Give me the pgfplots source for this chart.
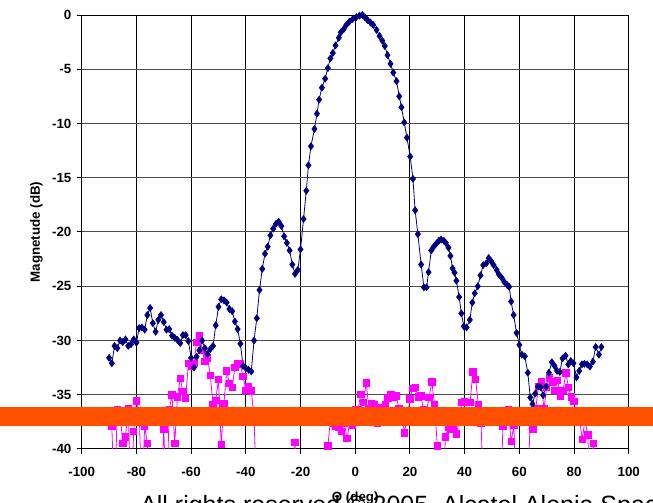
\documentclass[border=0pt]{standalone}
\usepackage{pgfplots}
\pgfplotsset{compat=1.18}
\usepackage{pgfplotstable}
\usepackage{fontspec}
\setmainfont{Liberation Sans}
\definecolor{navyb}{RGB}{0,0,128}
\definecolor{magen}{RGB}{255,0,255}
\definecolor{bandc}{RGB}{255,80,0}

\pgfplotstableread{
x y
-90 -31.6
-89 -32.1
-88 -30.5
-87 -30.7
-86 -30.0
-85 -30.15
-84 -29.9
-83 -30.5
-82 -30.35
-81 -29.9
-80 -30.2
-79 -28.85
-78 -28.8
-77 -29.0
-76 -27.65
-75 -27.0
-74 -28.4
-73 -29.2
-72 -28.1
-71 -27.65
-70 -28.3
-69 -29.0
-68 -28.95
-67 -29.55
-66 -29.75
-65 -29.95
-64 -30.25
-63 -29.5
-62 -29.5
-61 -30.05
-60 -31.6
-59 -32.5
-58 -31.5
-57 -30.9
-56 -30.0
-55 -30.7
-54 -31.25
-53 -30.8
-52 -30.5
-51 -28.6
-50 -26.9
-49 -26.2
-48 -26.3
-47 -26.5
-46 -27.1
-45 -27.3
-44 -28.25
-43 -28.95
-42 -30.3
-41 -32.35
-40 -32.55
-39 -32.7
-38 -32.85
-37 -30.0
-36 -27.95
-35 -25.35
-34 -23.4
-33 -22.0
-32 -21.35
-31 -20.3
-30 -19.7
-29 -19.25
-28 -19.05
-27 -19.45
-26 -20.4
-25 -21.0
-24 -21.7
-23 -23.0
-22 -23.85
-21 -23.5
-20 -21.6
-18.9 -18.8
-17.9 -16.2
-17.1 -13.85
-16.2 -12.1
-14.9 -10.5
-14.0 -9.1
-13.2 -7.8
-12.2 -6.7
-11.0 -5.87
-10.0 -4.9
-9.1 -4.0
-8.2 -3.5
-7.2 -2.8
-6.0 -2.1
-5.3 -1.6
-4.2 -1.3
-3.2 -0.9
-2.1 -0.6
-0.9 -0.37
0.4 -0.2
1.6 -0.06
2.6 0
3.5 -0.2
4.5 -0.46
5.6 -0.7
6.6 -0.92
7.8 -1.38
8.9 -1.94
9.9 -2.37
10.8 -2.86
11.8 -3.7
12.9 -4.5
13.9 -5.3
15.1 -6.1
16.1 -7.5
16.9 -8.5
17.9 -9.9
18.9 -11.3
20.1 -13.05
21.1 -15.1
21.9 -18.0
22.9 -20.2
24.1 -23.0
25.1 -25.1
26.1 -25.1
26.8 -23.7
27.8 -21.7
28.7 -21.35
29.7 -21.05
30.6 -20.8
31.4 -20.7
32.4 -20.8
33.1 -21.0
34.1 -21.45
34.8 -22.2
35.6 -23.35
36.3 -23.75
37.0 -24.5
38.0 -26.0
38.8 -27.5
39.7 -28.7
40.7 -28.8
41.9 -28.1
42.8 -26.5
43.7 -25.65
44.8 -25.0
45.8 -24.0
46.8 -23.05
47.9 -22.9
48.8 -22.4
49.7 -22.7
50.6 -23.05
51.7 -23.5
52.5 -23.9
53.5 -24.2
54.5 -24.6
55.6 -24.9
56.3 -25.05
57.0 -26.4
57.9 -27.65
59.0 -29.3
60.0 -30.4
60.9 -31.3
62.0 -31.45
63.1 -32.97
64.0 -35.25
64.8 -35.85
65.8 -34.9
66.8 -34.25
67.8 -34.3
68.7 -35.05
69.8 -34.25
70.8 -32.97
71.9 -32.0
72.9 -32.35
73.8 -32.8
74.8 -32.9
75.8 -31.65
76.9 -31.4
77.9 -32.2
78.8 -31.9
79.8 -32.1
80.9 -33.4
81.9 -32.8
82.9 -32.2
83.8 -32.15
84.8 -32.2
85.8 -32.4
86.9 -31.95
87.9 -30.6
89.1 -31.3
90.0 -30.6
}\bluedata

\pgfplotstableread{
x y
-90 -37.3
-89 -37.9
-88 -45
-87 -36.4
-86 -36.55
-85 -39.5
-84 -38.9
-83 -36.25
-82 -45
-81 -38.4
-80 -35.55
-79 -36.55
-78 -45
-77 -37.9
-76 -39.5
-75 -46
-74 -44
-73 -47
-72 -45
-71 -44
-70 -38.15
-69 -45
-68 -36.4
-67 -35.0
-66 -39.5
-65 -35.2
-64 -33.5
-63 -34.7
-62 -35.3
-61 -32.1
-60 -32.4
-59 -32.1
-58 -30.2
-57 -29.55
-56 -30.9
-55 -31.9
-54 -31.6
-53 -33.2
-52 -35.9
-51 -35.5
-50 -33.6
-49 -39.6
-48 -35.8
-47 -32.8
-46 -33.95
-45 -34.3
-44 -32.5
-43 -32.1
-42 -32.15
-41 -33.3
-40 -34.6
-39 -34.25
-38 -34.65
-37 -37.0
-36 -45
-35 -47
-34 -44
-33 -46
-32 -45
-31 -48
-30 -44
-29 -46
-28 -45
-27 -47
-26 -44
-25 -46
-24 -45
-23 -44
-22 -39.4
-21 -45
-20 -47
-19 -44
-18 -46
-17 -45
-16 -48
-15 -44
-14 -46
-13 -45
-12 -47
-11 -44
-10 -39.7
-9 -37.2
-8 -37.6
-7 -37.9
-6 -38.0
-5 -38.4
-4 -37.6
-3 -39.05
-2 -37.5
-1 -37.85
0 -36.35
1 -36.4
2 -34.96
3 -35.7
4 -33.9
5 -36.25
6 -35.8
7 -35.9
8 -37.6
9 -36.15
10 -37.1
11 -35.9
12 -35.3
13 -35.0
14 -35.25
15 -35.1
16 -36.25
17 -36.8
18 -38.5
19 -37.2
20 -35.4
21 -34.4
22 -34.3
23 -35.2
24 -35.1
25 -36.4
26 -36.55
27 -35.25
28 -33.8
29 -35.9
30 -39.7
31 -45
32 -44
33 -38.9
34 -38.0
35 -38.2
36 -38.2
37 -38.6
38 -37.4
39 -35.7
40 -35.6
41 -35.7
42 -35.7
43 -32.9
44 -33.6
45 -35.9
46 -37.6
47 -45
48 -46
49 -44
50 -47
51 -45
52 -44
53 -46
54 -37.9
55 -37.2
56 -36.4
57 -39.3
58 -37.85
59 -45
60 -42
61 -40.5
62 -44
63 -45
64 -36.9
65 -38.15
66 -36.25
67 -34.25
68 -33.8
69 -36.3
70 -34.3
71 -33.4
72 -33.8
73 -34.6
74 -33.7
75 -35.1
76 -34.6
77 -33.0
78 -34.35
79 -35.2
80 -35.6
81 -37.0
82 -37.3
83 -39.1
84 -37.3
85 -38.7
86 -44
87 -39.5
88 -45
89 -44
90 -46
}\magdata

\begin{document}
\begin{tikzpicture}
\useasboundingbox (0pt,0pt) rectangle (489.75pt,377.25pt);
\clip (0pt,0pt) rectangle (489.75pt,377.25pt);
\begin{axis}[
  at={(61.3pt,40.5pt)}, anchor=south west,
  scale only axis, width=410.25pt, height=325.5pt,
  xmin=-100, xmax=100, ymin=-40, ymax=0,
  xtick={-100,-80,...,100}, ytick={-40,-35,...,0},
  xticklabels={-100,-80,-60,-40,-20,0,20,40,60,80,100},
  yticklabels={-40,-35,-30,-25,-20,-15,-10,-5,0},
  tick pos=left, tick align=outside, major tick length=3.75pt,
  tick style={black, line width=0.75pt},
  xmajorgrids, ymajorgrids,
  x grid style={black, line width=0.7pt},
  y grid style={black!70, line width=0.75pt},
  axis line style={black, line width=0.75pt},
  ticklabel style={font=\fontsize{10}{12}\selectfont\bfseries},
  xticklabel style={yshift=-6pt},
  yticklabel style={xshift=-0.5pt},
  xlabel={Θ (deg)},
  ylabel={Magnetude (dB)},
  every axis x label/.style={at={(axis description cs:0.5,0)}, anchor=center, yshift=-36.75pt, font=\fontsize{10}{12}\selectfont\bfseries},
  every axis y label/.style={at={(axis description cs:0,0.5)}, xshift=-33.9pt, rotate=90, anchor=center, font=\fontsize{10}{12}\selectfont\bfseries},
]
\addplot[magen, line width=0.6pt, mark=square*, mark size=2.4pt, mark options={solid, fill=magen, draw=magen}] table[x=x,y=y] {\magdata};
\addplot[navyb, line width=0.6pt, mark=diamond*, mark size=2.5pt, mark options={solid, fill=navyb, draw=navyb}] table[x=x,y=y] {\bluedata};
\end{axis}
\fill[bandc] (0pt,58.0pt) rectangle (489.75pt,71.8pt);
\node[anchor=base west, inner sep=0pt, font=\fontsize{18.75}{22}\selectfont] at (105pt,-8.25pt) {All rights reserved © 2005, Alcatel Alenia Space};
\end{tikzpicture}
\end{document}
